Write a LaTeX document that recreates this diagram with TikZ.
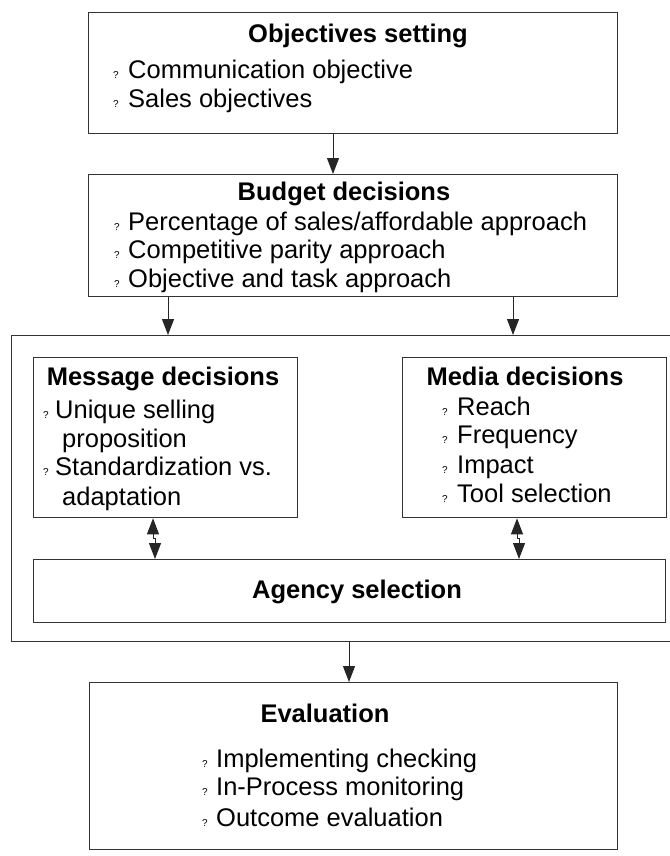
\documentclass[tikz,border=0pt]{standalone}
\usepackage{fontspec}
\setmainfont{Liberation Sans}
\usetikzlibrary{arrows.meta}
\begin{document}
\begin{tikzpicture}[x=1pt,y=-1pt,
  box/.style={draw=black!80, line width=1.3pt, inner sep=0pt, anchor=north west},
  head/.style={font=\fontsize{25.5}{25.5}\selectfont\bfseries, anchor=base, inner sep=0pt},
  item/.style={font=\fontsize{25.5}{25.5}\selectfont, anchor=base west, inner sep=0pt},
  bul/.style={font=\fontsize{10}{10}\selectfont, anchor=base west, inner sep=0pt},
  arr/.style={-{Triangle[width=12pt,length=16pt]}, line width=1pt, draw=black!85},
  link/.style={line width=1pt, draw=black!85}
]
\useasboundingbox (0,0) rectangle (669,856);

% Objectives setting
\node[box, minimum width=529pt, minimum height=121pt] (obj) at (88,12) {};
\node[head] (hobj) at (358,43) {Objectives setting};
\node[bul] (bobj1) at (113,79) {?};
\node[item] (iobj1) at (128,79) {Communication objective};
\node[bul] (bobj2) at (113,108) {?};
\node[item] (iobj2) at (128,108) {Sales objectives};

% Budget decisions
\node[box, minimum width=529pt, minimum height=122pt] (bud) at (88,174) {};
\node[head] (hbud) at (344,200) {Budget decisions};
\node[bul] (bbud1) at (114,230) {?};
\node[item] (ibud1) at (128,230) {Percentage of sales/affordable approach};
\node[bul] (bbud2) at (114,258) {?};
\node[item] (ibud2) at (128,258) {Competitive parity approach};
\node[bul] (bbud3) at (114,287) {?};
\node[item] (ibud3) at (128,287) {Objective and task approach};

% Decision area (its right side runs off the page)
\node[box, minimum width=662pt, minimum height=306pt] (area) at (11,335) {};

% Message decisions
\node[box, minimum width=264pt, minimum height=160pt] (msg) at (33,357) {};
\node[head] (hmsg) at (163,385) {Message decisions};
\node[bul] (bmsg1) at (43,418) {?};
\node[item] (imsg1) at (55,418) {Unique selling};
\node[item] (imsg2) at (62,447) {proposition};
\node[bul] (bmsg3) at (43,475) {?};
\node[item] (imsg3) at (55,475) {Standardization vs.};
\node[item] (imsg4) at (62,505) {adaptation};

% Media decisions
\node[box, minimum width=264pt, minimum height=160pt] (med) at (402,357) {};
\node[head] (hmed) at (525,385) {Media decisions};
\node[bul] (bmed1) at (442,415) {?};
\node[item] (imed1) at (457,415) {Reach};
\node[bul] (bmed2) at (442,443) {?};
\node[item] (imed2) at (457,443) {Frequency};
\node[bul] (bmed3) at (442,473) {?};
\node[item] (imed3) at (457,473) {Impact};
\node[bul] (bmed4) at (442,502) {?};
\node[item] (imed4) at (457,502) {Tool selection};

% Agency selection
\node[box, minimum width=632pt, minimum height=63pt] (agy) at (33,559) {};
\node[head] (hagy) at (357,598) {Agency selection};

% Evaluation
\node[box, minimum width=528pt, minimum height=167pt] (eva) at (89,682) {};
\node[head] (heva) at (325,722) {Evaluation};
\node[bul] (beva1) at (202,767) {?};
\node[item] (ieva1) at (216,767) {Implementing checking};
\node[bul] (beva2) at (202,795) {?};
\node[item] (ieva2) at (216,795) {In-Process monitoring};
\node[bul] (beva3) at (202,826) {?};
\node[item] (ieva3) at (216,826) {Outcome evaluation};

% Connectors
\coordinate (ct) at (333,0);
\draw[arr] (obj.south -| ct) -- (bud.north -| ct);
\coordinate (cl) at (168,0);
\coordinate (cr) at (513,0);
\draw[arr] (bud.south -| cl) -- (area.north -| cl);
\draw[arr] (bud.south -| cr) -- (area.north -| cr);

% two-way links, drawn as two half arrows with a small step between them
\coordinate (ml) at (153,538);
\coordinate (ml2) at (155,538);
\coordinate (mr) at (517,538);
\coordinate (mr2) at (519,538);
\draw[arr] (ml) -- (msg.south -| ml);
\draw[arr] (ml2) -- (agy.north -| ml2);
\draw[link] (ml) -- (ml2);
\draw[arr] (mr) -- (med.south -| mr);
\draw[arr] (mr2) -- (agy.north -| mr2);
\draw[link] (mr) -- (mr2);

\coordinate (ce) at (349,0);
\draw[arr] (area.south -| ce) -- (eva.north -| ce);
\end{tikzpicture}
\end{document}
